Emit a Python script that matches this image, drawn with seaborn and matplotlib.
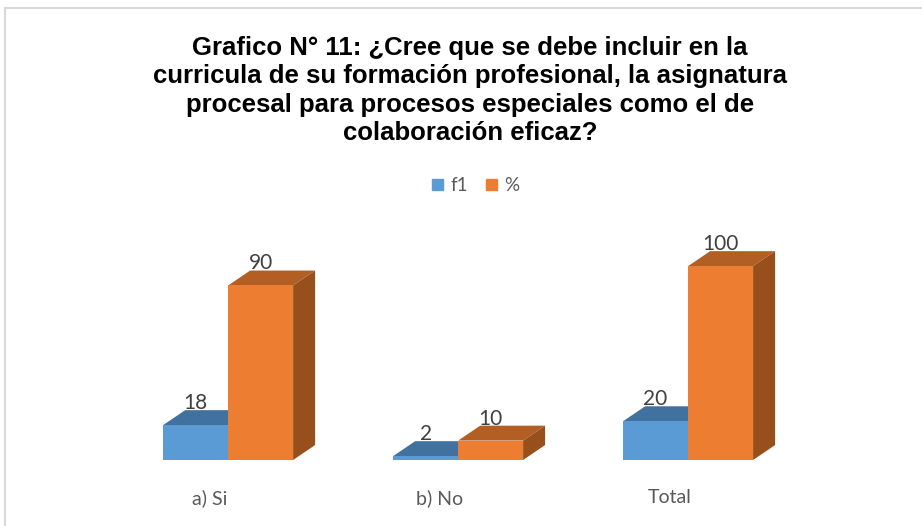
import matplotlib
matplotlib.use("Agg")
import matplotlib.pyplot as plt
from matplotlib.patches import Polygon, Rectangle
import pandas as pd
import seaborn as sns

categories = ["a) Si", "b) No", "Total"]
series = ["f1", "%"]
f1_values = [18, 2, 20]
pct_values = [90, 10, 100]

title = ("Grafico N° 11: ¿Cree que se debe incluir en la\n"
         "curricula de su formación profesional, la asignatura\n"
         "procesal para procesos especiales como el de\n"
         "colaboración eficaz?")

front = {"f1": "#5B9BD5", "%": "#ED7D31"}
top = {"f1": "#41729F", "%": "#B35F24"}
side = {"f1": "#3A6690", "%": "#97501C"}

df = pd.DataFrame({
    "cat": categories * 2,
    "serie": ["f1"] * 3 + ["%"] * 3,
    "val": f1_values + pct_values,
})

sns.set_theme(style="white")
plt.rcParams["font.family"] = ["Lato", "DejaVu Sans"]

fig = plt.figure(figsize=(9.22, 5.26), dpi=100)
ax = fig.add_axes([0.1085, 0.1255, 0.781, 0.456])

sns.barplot(data=df, x="cat", y="val", hue="serie", order=categories,
            hue_order=series, palette=front, width=0.565, ax=ax,
            saturation=1, legend=False, linewidth=0, zorder=2)

ax.set_xlim(-0.557, 2.574)
ax.set_ylim(0, 123.7)

# fake 3D depth: top and side faces
dx, dy = 0.0957, 7.7
bars = list(ax.patches)
n = len(categories)
for i, bar in enumerate(bars):
    s = series[i // n]
    x0 = bar.get_x()
    x1 = x0 + bar.get_width()
    h = bar.get_height()
    z = 1 if s == "f1" else 3
    ax.add_patch(Polygon([(x0, h), (x1, h), (x1 + dx, h + dy), (x0 + dx, h + dy)],
                         closed=True, facecolor=top[s], edgecolor="none", zorder=z))
    ax.add_patch(Polygon([(x1, 0), (x1 + dx, dy), (x1 + dx, h + dy), (x1, h)],
                         closed=True, facecolor=side[s], edgecolor="none", zorder=z))
    if s == "%":
        bar.set_zorder(4)
    ax.text(x0 + bar.get_width() / 2, h + dy - 1.5, f"{h:g}", ha="center",
            va="bottom", fontsize=15, color="#404040", zorder=5)

for sp in ax.spines.values():
    sp.set_visible(False)
ax.set_yticks([])
ax.set_xlabel("")
ax.set_ylabel("")
ax.set_xticks([i - 0.08 for i in range(n)])
ax.set_xticklabels(categories, fontsize=14, color="#595959")
ax.tick_params(axis="x", length=0, pad=21)

handles = [Rectangle((0, 0), 1, 1, color=front[s]) for s in series]
fig.legend(handles, series, loc="center", bbox_to_anchor=(0.516, 0.647),
           ncol=2, frameon=False, fontsize=13.5, handlelength=0.55, handleheight=0.55,
           handletextpad=0.4, columnspacing=1.0, labelcolor="#595959")

fig.text(0.51, 0.828, title, ha="center", va="center", fontsize=18.5,
         fontweight="bold", family=["Liberation Sans", "DejaVu Sans"],
         color="#000000", linespacing=1.22)

fig.patches.append(Rectangle((5 / 922, -10 / 526), 930 / 922, 528 / 526,
                             transform=fig.transFigure, fill=False,
                             edgecolor="#D9D9D9", linewidth=1.5))

fig.savefig("out.png", dpi=100)
